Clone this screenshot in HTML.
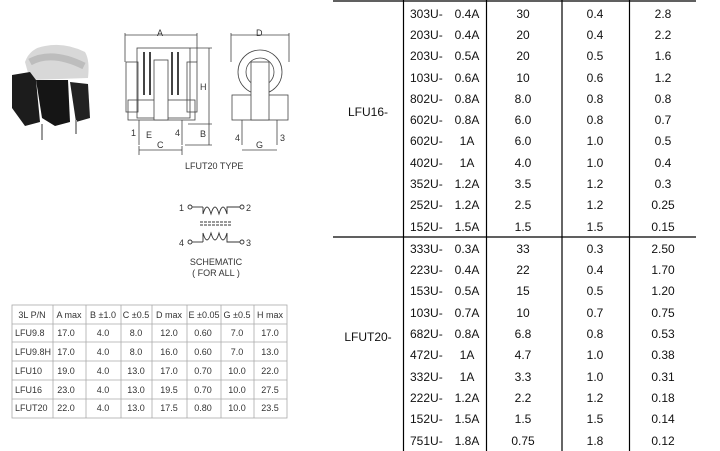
<!DOCTYPE html>
<html><head><meta charset="utf-8"><style>
html,body{margin:0;padding:0;background:#fff;}
svg{display:block;}
.t{font-family:"Liberation Sans",sans-serif;font-size:12px;fill:#111;}
.s{font-family:"Liberation Sans",sans-serif;font-size:9px;fill:#333;}
</style></head><body>
<svg width="720" height="451" viewBox="0 0 720 451" xmlns="http://www.w3.org/2000/svg">
<!-- photo -->
<g>
<path d="M25 62 Q30 48 45 46 Q65 42 85 52 Q90 60 88 78 L30 80Z" fill="#d8d8d8"/>
<path d="M12 75 L30 72 L36 80 L40 122 L25 126 L12 108Z" fill="#1c1c1c"/>
<path d="M36 80 L68 80 L70 122 L55 126 L42 118Z" fill="#151515"/>
<path d="M70 82 L88 84 L90 118 L76 122Z" fill="#222"/>
<path d="M30 62 Q52 50 84 66" stroke="#bdbdbd" stroke-width="7" fill="none"/>
<line x1="42" y1="124" x2="42" y2="140" stroke="#999" stroke-width="2"/>
<line x1="76" y1="120" x2="76" y2="134" stroke="#999" stroke-width="2"/>
</g>
<!-- front view -->
<g stroke="#444" stroke-width="0.8" fill="none">
<line x1="125" y1="35" x2="197" y2="35"/><line x1="125" y1="33" x2="125" y2="62"/><line x1="197" y1="33" x2="197" y2="62"/>
<rect x="137" y="48" width="53" height="70"/>
<rect x="126" y="62" width="12" height="50"/><rect x="187" y="62" width="10" height="50"/>
<rect x="128" y="100" width="67" height="20"/>
<rect x="154" y="60" width="14" height="60" fill="#fff"/>
<line x1="144" y1="52" x2="144" y2="95" stroke-width="2"/><line x1="150" y1="52" x2="150" y2="95" stroke-width="2"/>
<line x1="172" y1="52" x2="172" y2="95" stroke-width="2"/><line x1="178" y1="52" x2="178" y2="95" stroke-width="2"/>
<line x1="139" y1="120" x2="139" y2="145"/><line x1="182" y1="120" x2="182" y2="145"/>
<line x1="209" y1="48" x2="209" y2="145"/><line x1="190" y1="48" x2="212" y2="48"/><line x1="188" y1="124" x2="212" y2="124"/><line x1="185" y1="145" x2="212" y2="145"/>
<line x1="139" y1="150" x2="182" y2="150"/><line x1="139" y1="146" x2="139" y2="155"/><line x1="182" y1="146" x2="182" y2="155"/>
</g>
<text class="s" x="157" y="36" fill="#222">A</text>
<text class="s" x="200" y="90">H</text><text class="s" x="200" y="137">B</text>
<text class="s" x="157" y="148">C</text><text class="s" x="146" y="138">E</text>
<text class="s" x="131" y="136" font-size="7">1</text><text class="s" x="175" y="136" font-size="7">4</text>
<!-- side view -->
<g stroke="#444" stroke-width="0.8" fill="none">
<line x1="231" y1="35" x2="289" y2="35"/><line x1="231" y1="33" x2="231" y2="62"/><line x1="289" y1="33" x2="289" y2="62"/>
<circle cx="260" cy="72" r="22"/><circle cx="260" cy="72" r="14"/>
<rect x="232" y="95" width="56" height="25"/>
<rect x="251" y="62" width="18" height="58" fill="#fff"/>
<line x1="242" y1="120" x2="242" y2="145"/><line x1="277" y1="120" x2="277" y2="145"/>
<line x1="242" y1="150" x2="277" y2="150"/>
</g>
<text class="s" x="256" y="36">D</text><text class="s" x="256" y="148">G</text>
<text class="s" x="235" y="141" font-size="7">4</text><text class="s" x="280" y="141" font-size="7">3</text>
<text class="s" x="185" y="169">LFUT20 TYPE</text>
<!-- schematic -->
<g stroke="#333" stroke-width="0.9" fill="none">
<circle cx="190" cy="207" r="2"/><line x1="192" y1="207" x2="203" y2="207"/>
<path d="M203 207 L203 214 Q207 200 211 214 Q215 200 219 214 Q223 200 227 214 L227 207 L240 207"/><circle cx="242" cy="207" r="2"/>
<circle cx="190" cy="242" r="2"/><line x1="192" y1="242" x2="203" y2="242"/>
<path d="M203 242 L203 233 Q207 247 211 233 Q215 247 219 233 Q223 247 227 233 L227 242 L240 242"/><circle cx="242" cy="242" r="2"/>
<line x1="200" y1="222" x2="232" y2="222" stroke-dasharray="3,1"/><line x1="200" y1="225" x2="232" y2="225" stroke-dasharray="3,1"/>
</g>
<text class="s" x="179" y="211">1</text><text class="s" x="246" y="211">2</text>
<text class="s" x="179" y="246">4</text><text class="s" x="246" y="246">3</text>
<text class="s" x="216" y="265" text-anchor="middle">SCHEMATIC</text>
<text class="s" x="216" y="276" text-anchor="middle">( FOR ALL )</text>
<!-- small table -->
<g stroke="#aaa" stroke-width="0.8" fill="none">
<rect x="12" y="305" width="275" height="113"/>
<line x1="12" y1="324" x2="287" y2="324"/><line x1="12" y1="342" x2="287" y2="342"/><line x1="12" y1="361" x2="287" y2="361"/><line x1="12" y1="380" x2="287" y2="380"/><line x1="12" y1="399" x2="287" y2="399"/>
<line x1="53" y1="305" x2="53" y2="418"/><line x1="86" y1="305" x2="86" y2="418"/><line x1="121" y1="305" x2="121" y2="418"/><line x1="152" y1="305" x2="152" y2="418"/><line x1="187" y1="305" x2="187" y2="418"/><line x1="221" y1="305" x2="221" y2="418"/><line x1="254" y1="305" x2="254" y2="418"/>
</g>
<g class="s" text-anchor="middle">
<text x="32" y="318">3L P/N</text><text x="69" y="318">A max</text><text x="103" y="318">B ±1.0</text><text x="136" y="318">C ±0.5</text><text x="169" y="318">D max</text><text x="204" y="318">E ±0.05</text><text x="237" y="318">G ±0.5</text><text x="270" y="318">H max</text>
</g>
<g class="s">
<text x="15" y="336">LFU9.8</text><text x="15" y="355">LFU9.8H</text><text x="15" y="374">LFU10</text><text x="15" y="393">LFU16</text><text x="15" y="411">LFUT20</text>
</g>
<g class="s" text-anchor="middle">
<text x="66" y="336">17.0</text><text x="103" y="336">4.0</text><text x="136" y="336">8.0</text><text x="169" y="336">12.0</text><text x="203" y="336">0.60</text><text x="237" y="336">7.0</text><text x="270" y="336">17.0</text>
<text x="66" y="355">17.0</text><text x="103" y="355">4.0</text><text x="136" y="355">8.0</text><text x="169" y="355">16.0</text><text x="203" y="355">0.60</text><text x="237" y="355">7.0</text><text x="270" y="355">13.0</text>
<text x="66" y="374">19.0</text><text x="103" y="374">4.0</text><text x="136" y="374">13.0</text><text x="169" y="374">17.0</text><text x="203" y="374">0.70</text><text x="237" y="374">10.0</text><text x="270" y="374">22.0</text>
<text x="66" y="393">23.0</text><text x="103" y="393">4.0</text><text x="136" y="393">13.0</text><text x="169" y="393">19.5</text><text x="203" y="393">0.70</text><text x="237" y="393">10.0</text><text x="270" y="393">27.5</text>
<text x="66" y="411">22.0</text><text x="103" y="411">4.0</text><text x="136" y="411">13.0</text><text x="169" y="411">17.5</text><text x="203" y="411">0.80</text><text x="237" y="411">10.0</text><text x="270" y="411">23.5</text>
</g>
<!-- main table -->
<g stroke="#000" stroke-width="1.2">
<line x1="333" y1="1" x2="696" y2="1"/><line x1="333" y1="237" x2="696" y2="237"/>
<line x1="403.5" y1="0" x2="403.5" y2="451"/><line x1="486.5" y1="0" x2="486.5" y2="451"/><line x1="562" y1="0" x2="562" y2="451"/><line x1="629.5" y1="0" x2="629.5" y2="451"/>
</g>
<text class="t" x="368" y="116" text-anchor="middle">LFU16-</text>
<text class="t" x="368" y="341" text-anchor="middle">LFUT20-</text>
<g class="t">
<text x="410" y="18">303U-</text><text x="410" y="39">203U-</text><text x="410" y="60">203U-</text><text x="410" y="82">103U-</text><text x="410" y="103">802U-</text><text x="410" y="124">602U-</text><text x="410" y="145">602U-</text><text x="410" y="167">402U-</text><text x="410" y="188">352U-</text><text x="410" y="209">252U-</text><text x="410" y="231">152U-</text>
<text x="410" y="253">333U-</text><text x="410" y="274">223U-</text><text x="410" y="295">153U-</text><text x="410" y="317">103U-</text><text x="410" y="338">682U-</text><text x="410" y="359">472U-</text><text x="410" y="381">332U-</text><text x="410" y="402">222U-</text><text x="410" y="423">152U-</text><text x="410" y="445">751U-</text>
</g>
<g class="t" text-anchor="middle">
<text x="467" y="18">0.4A</text><text x="467" y="39">0.4A</text><text x="467" y="60">0.5A</text><text x="467" y="82">0.6A</text><text x="467" y="103">0.8A</text><text x="467" y="124">0.8A</text><text x="467" y="145">1A</text><text x="467" y="167">1A</text><text x="467" y="188">1.2A</text><text x="467" y="209">1.2A</text><text x="467" y="231">1.5A</text>
<text x="467" y="253">0.3A</text><text x="467" y="274">0.4A</text><text x="467" y="295">0.5A</text><text x="467" y="317">0.7A</text><text x="467" y="338">0.8A</text><text x="467" y="359">1A</text><text x="467" y="381">1A</text><text x="467" y="402">1.2A</text><text x="467" y="423">1.5A</text><text x="467" y="445">1.8A</text>
<text x="523" y="18">30</text><text x="523" y="39">20</text><text x="523" y="60">20</text><text x="523" y="82">10</text><text x="523" y="103">8.0</text><text x="523" y="124">6.0</text><text x="523" y="145">6.0</text><text x="523" y="167">4.0</text><text x="523" y="188">3.5</text><text x="523" y="209">2.5</text><text x="523" y="231">1.5</text>
<text x="523" y="253">33</text><text x="523" y="274">22</text><text x="523" y="295">15</text><text x="523" y="317">10</text><text x="523" y="338">6.8</text><text x="523" y="359">4.7</text><text x="523" y="381">3.3</text><text x="523" y="402">2.2</text><text x="523" y="423">1.5</text><text x="523" y="445">0.75</text>
<text x="595" y="18">0.4</text><text x="595" y="39">0.4</text><text x="595" y="60">0.5</text><text x="595" y="82">0.6</text><text x="595" y="103">0.8</text><text x="595" y="124">0.8</text><text x="595" y="145">1.0</text><text x="595" y="167">1.0</text><text x="595" y="188">1.2</text><text x="595" y="209">1.2</text><text x="595" y="231">1.5</text>
<text x="595" y="253">0.3</text><text x="595" y="274">0.4</text><text x="595" y="295">0.5</text><text x="595" y="317">0.7</text><text x="595" y="338">0.8</text><text x="595" y="359">1.0</text><text x="595" y="381">1.0</text><text x="595" y="402">1.2</text><text x="595" y="423">1.5</text><text x="595" y="445">1.8</text>
<text x="663" y="18">2.8</text><text x="663" y="39">2.2</text><text x="663" y="60">1.6</text><text x="663" y="82">1.2</text><text x="663" y="103">0.8</text><text x="663" y="124">0.7</text><text x="663" y="145">0.5</text><text x="663" y="167">0.4</text><text x="663" y="188">0.3</text><text x="663" y="209">0.25</text><text x="663" y="231">0.15</text>
<text x="663" y="253">2.50</text><text x="663" y="274">1.70</text><text x="663" y="295">1.20</text><text x="663" y="317">0.75</text><text x="663" y="338">0.53</text><text x="663" y="359">0.38</text><text x="663" y="381">0.31</text><text x="663" y="402">0.18</text><text x="663" y="423">0.14</text><text x="663" y="445">0.12</text>
</g>
</svg>
</body></html>
